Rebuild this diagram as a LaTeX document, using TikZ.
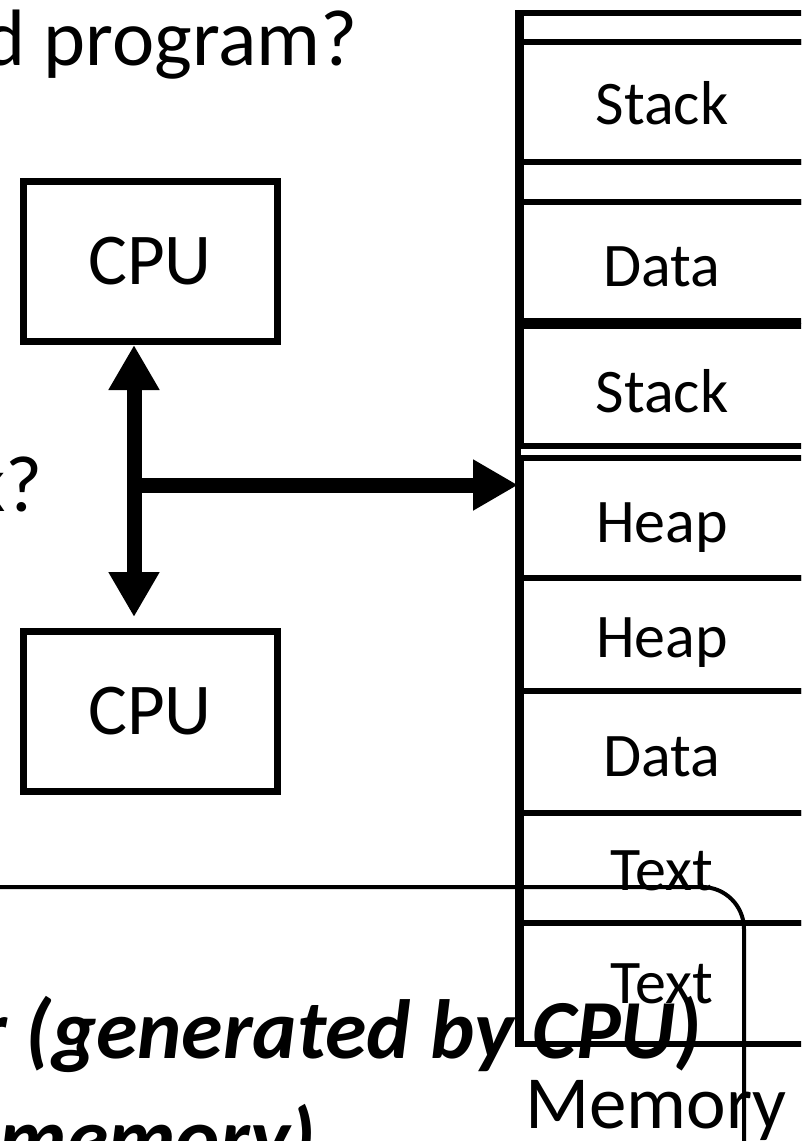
\documentclass[tikz,border=0pt]{standalone}
\usepackage{fontspec}
\setmainfont{Carlito}
\usetikzlibrary{arrows.meta}
\begin{document}
\begin{tikzpicture}[x=1pt,y=-1pt,
  cell/.style={draw, line width=5.5pt, minimum width=288pt, inner sep=0pt, anchor=north west},
  celltext/.style={anchor=base, inner sep=0pt, font=\fontsize{62}{62}\selectfont},
  cpubox/.style={draw, line width=7pt, minimum width=254pt, minimum height=160pt, inner sep=0pt, font=\fontsize{73}{73}\selectfont},
  bigtip/.tip={Triangle[width=48pt,length=45pt]},
  bus/.style={line width=15pt},
  slide/.style={anchor=base east, inner sep=0pt, font=\fontsize{80}{80}\selectfont},
  emph/.style={anchor=base east, inner sep=0pt, font=\bfseries\itshape\fontsize{84}{84}\selectfont}
]
\useasboundingbox (0,0) rectangle (801,1141);
\clip (0,0) rectangle (801,1141);

% memory cells
\node[cell, minimum height=29pt]  (c0) at (518,10) {};
\node[cell, minimum height=120pt] (c1) at (518,39) {};
\node[cell, minimum height=40pt]  (c2) at (518,159) {};
\node[cell, minimum height=119pt] (c3) at (518,199) {};
\node[cell, minimum height=120pt] (c4) at (518,323) {};
\node[cell, minimum height=120pt] (c5) at (518,455) {};
\node[cell, minimum height=113pt] (c6) at (518,575) {};
\node[cell, minimum height=122pt] (c7) at (518,688) {};
\node[cell, minimum height=110pt] (c8) at (518,810) {};
\node[cell, minimum height=121pt] (c9) at (518,920) {};
\draw[line width=5.5pt] (c0.north west) -- (c9.south west);

\node[celltext] (t1) at (662,124) {Stack};
\node[celltext] (t3) at (662,286) {Data};
\node[celltext] (t4) at (662,412) {Stack};
\node[celltext] (t5) at (662,542) {Heap};
\node[celltext] (t6) at (662,657) {Heap};
\node[celltext] (t7) at (662,776) {Data};
\node[celltext] (t8) at (662,890) {Text};
\node[celltext] (t9) at (662,1003) {Text};
\node[anchor=base, inner sep=0pt, font=\fontsize{75}{75}\selectfont] (mem) at (656,1128) {Memory};

% CPUs
\node[cpubox] (cpu1) at (150,261.5) {CPU};
\node[cpubox] (cpu2) at (150,711.5) {CPU};

% bus arrows
\coordinate (j) at (134,485);
\draw[bus, bigtip-bigtip, shorten >=11pt] (j |- cpu1.south) -- (j |- cpu2.north);
\draw[bus, -bigtip] (j) -- (j -| c5.west);

% slide text
\node[slide] (title) at (358,65) {d program?};
\node[slide] (q) at (43,511) {k?};

\draw[line width=4pt, rounded corners=42pt] (-10,887) -- (744,887) -- (744,1160);

\node[emph] (l1) at (702,1058) {r (generated by CPU)};
\node[emph] (l2) at (316,1166) {memory)};
\end{tikzpicture}
\end{document}
